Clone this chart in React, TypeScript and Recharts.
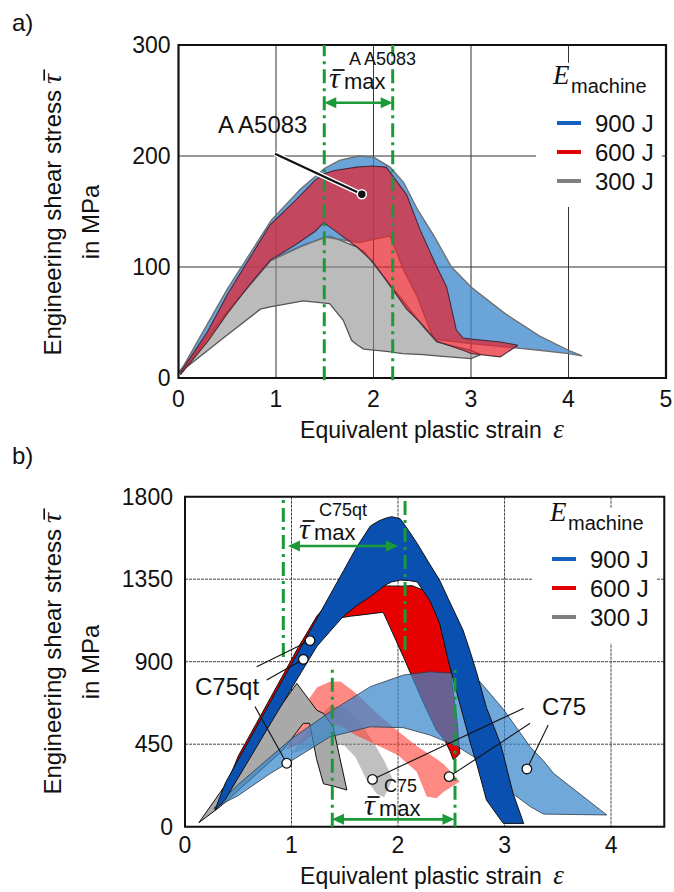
import React from 'react';
import {
  ComposedChart,
  Area,
  XAxis,
  YAxis,
  CartesianGrid,
  ReferenceLine,
  ReferenceArea,
  ReferenceDot,
} from 'recharts';

type Row = [number, number, number]; // [strain, lower stress, upper stress]

// ---------------- a) A A5083 ----------------
const aXTicks = [0, 1, 2, 3, 4, 5];
const aYTicks = [0, 100, 200, 300];

const a300: Row[] = [
  [0.0, 4, 5], [0.46, 36, 55], [0.84, 62, 96], [0.94, 64, 106], [1.28, 69.5, 120],
  [1.55, 67, 128], [1.69, 52, 123], [1.775, 34, 120], [1.83, 30, 118], [1.9, 26, 114],
  [2.135, 24, 88], [2.3, 22, 70], [2.51, 21, 46], [2.65, 20, 32.5], [3.0, 17.5, 25], [3.1, 21, 21],
];
const a900: Row[] = [
  [0.02, 3, 6], [0.5, 60, 80], [0.95, 106, 142], [1.25, 118, 170], [1.5, 127, 189],
  [1.65, 125, 196], [1.85, 122, 200], [2.0, 125, 199], [2.17, 128, 190], [2.31, 97, 176],
  [2.45, 73, 152], [2.55, 50, 138], [2.62, 35, 128], [2.8, 33, 100], [3.0, 31, 82],
  [3.35, 28, 58], [3.7, 25, 38], [4.0, 22, 25], [4.14, 20, 20],
];
const a600: Row[] = [
  [0.02, 3, 5], [0.3, 33, 42], [0.5, 58, 75], [0.73, 84, 108], [0.94, 106, 138],
  [1.2, 120, 160], [1.4, 132, 178], [1.49, 140, 184], [1.6, 133, 187], [1.83, 118, 190],
  [1.99, 105, 191], [2.13, 88, 190], [2.34, 62, 165], [2.48, 50, 133], [2.65, 33, 100],
  [2.75, 30, 82], [2.85, 27, 43], [2.92, 25, 36], [3.0, 22, 35], [3.3, 19, 32.5], [3.48, 29.5, 29.5],
];
const aTauLines = [1.495, 2.197];
const aArrow = { y: 248, from: 1.495, to: 2.197 };
const aLeaderFrom = { x: 0.99, y: 202 };
const aLeaderDot = { x: 1.88, y: 165.6 };
const aLegendBox = { x1: 3.667, x2: 4.959, y1: 154, y2: 284 };

// ---------------- b) C75 / C75qt ----------------
const bXTicks = [0, 1, 2, 3, 4];
const bYTicks = [0, 450, 900, 1350, 1800];

const bC75qt900: Row[] = [
  [0.28, 90, 90], [0.38, 150, 240], [0.49, 258, 355], [0.7, 462, 574], [0.8, 560, 678],
  [1.06, 812, 950], [1.17, 918, 1064], [1.24, 985, 1137], [1.49, 1150, 1398], [1.61, 1205, 1523],
  [1.74, 1255, 1640], [1.82, 1290, 1668], [1.88, 1318, 1682], [1.94, 1335, 1691], [2.02, 1345, 1680],
  [2.1, 1343, 1615], [2.18, 1335, 1545], [2.3, 1232, 1430], [2.39, 1110, 1345], [2.47, 909, 1245],
  [2.61, 606, 1073], [2.68, 455, 950], [2.74, 340, 837], [2.83, 146, 650], [2.96, 40, 455],
  [2.99, 18, 390], [3.08, 18, 182], [3.18, 18, 18],
];
const bC75qt600: Row[] = [
  [0.3, 100, 100], [0.5, 330, 385], [0.8, 650, 700], [1.06, 910, 975], [1.24, 1060, 1150],
  [1.47, 1140, 1300], [1.55, 1148, 1330], [1.7, 1158, 1330], [1.86, 1170, 1315], [1.9, 1120, 1313],
  [2.05, 927, 1312], [2.13, 820, 1315], [2.24, 673, 1290], [2.3, 600, 1240], [2.36, 527, 1190],
  [2.44, 470, 990], [2.49, 410, 880], [2.52, 364, 720], [2.55, 380, 600], [2.58, 400, 400],
];
const bC75qt300: Row[] = [
  [0.13, 22, 22], [0.33, 109, 187], [0.92, 418, 675], [1.05, 518, 782], [1.11, 564, 735],
  [1.17, 564, 688], [1.236, 367, 636], [1.3, 234, 618], [1.39, 222, 545], [1.52, 200, 200],
];
const bC75900: Row[] = [
  [0.27, 100, 100], [0.5, 170, 230], [0.8, 290, 380], [1.0, 360, 480], [1.36, 490, 625],
  [1.74, 545, 764], [2.05, 540, 827], [2.3, 500, 845], [2.55, 440, 836], [2.77, 360, 790],
  [2.99, 218, 640], [3.24, 110, 436], [3.365, 69, 360], [3.46, 68, 291], [3.96, 64, 64],
];
const bC75600: Row[] = [
  [0.95, 420, 420], [1.11, 460, 650], [1.24, 520, 760], [1.36, 560, 790], [1.46, 550, 792],
  [1.6, 500, 730], [1.8, 445, 620], [2.0, 390, 520], [2.175, 300, 440], [2.27, 165, 405],
  [2.36, 155, 370], [2.43, 190, 340], [2.58, 246, 246],
];
const bC75300: Row[] = [
  [1.0, 400, 400], [1.2, 430, 560], [1.36, 470, 660], [1.5, 440, 650], [1.6, 380, 600],
  [1.7, 260, 520], [1.8, 180, 430], [1.87, 160, 360], [1.95, 260, 260],
];
const bQtLines = [
  { x: 0.923, y1: 925, y2: 1800 },
  { x: 2.066, y1: 964, y2: 1800 },
];
const bC75Lines = [
  { x: 1.383, y1: 0, y2: 873 },
  { x: 2.535, y1: 0, y2: 855 },
];
const bQtArrow = { y: 1531, from: 0.967, to: 2.0 };
const bC75Arrow = { y: 40, from: 1.38, to: 2.53 };
const bQtDots = [
  { x: 1.174, y: 1015, lx: 0.673, ly: 873 },
  { x: 1.111, y: 913, lx: 0.767, ly: 800 },
  { x: 0.955, y: 346, lx: 0.657, ly: 655 },
];
const bC75Dots = [
  { x: 1.76, y: 258, lx: 3.18, ly: 646 },
  { x: 2.48, y: 273, lx: 3.24, ly: 564 },
  { x: 3.21, y: 315, lx: 3.41, ly: 555 },
];
const bLegendBox = { x1: 3.258, x2: 4.432, y1: 1001, y2: 1738 };

const legendLabels = ['900 J', '600 J', '300 J'];
const legendColors = ['#1560bd', '#e00000', '#808080'];

// ---------------- helpers ----------------
const SANS = '"Liberation Sans", Arial, Helvetica, sans-serif';
const SERIF = '"Liberation Serif", "DejaVu Serif", "Times New Roman", serif';
const GREEN = '#1c9a38';
const DASHDOT = '14 5 3 5';

const toBand = (rows: Row[]) => rows.map(([x, lo, hi]) => ({ x, band: [lo, hi] }));

const ArrowShape = (p: any) => {
  const { x1, y1, x2 } = p;
  const L = 12;
  const W = 5.5;
  const xa = Math.min(x1, x2);
  const xb = Math.max(x1, x2);
  const y = y1;
  return (
    <g>
      <line x1={xa + L - 1} y1={y} x2={xb - L + 1} y2={y} stroke={GREEN} strokeWidth={2.6} />
      <polygon points={`${xa},${y} ${xa + L},${y - W} ${xa + L},${y + W}`} fill={GREEN} />
      <polygon points={`${xb},${y} ${xb - L},${y - W} ${xb - L},${y + W}`} fill={GREEN} />
    </g>
  );
};

const tickStyle = { fill: '#111', fontSize: 23, fontFamily: SANS };

function ChartA() {
  return (
    <ComposedChart width={674} height={440} margin={{ top: 45, right: 8, bottom: 32, left: 128.5 }}>
      <CartesianGrid stroke="#333" strokeWidth={1} />
      <XAxis
        type="number" dataKey="x" domain={[0, 5]} ticks={aXTicks} allowDataOverflow height={30}
        axisLine={false} tickLine={false} tickSize={4} tickMargin={9} interval={0} tick={tickStyle}
      />
      <YAxis
        type="number" domain={[0, 300]} ticks={aYTicks} allowDataOverflow width={50}
        axisLine={false} tickLine={false} tickSize={4} tickMargin={4} interval={0} tick={tickStyle}
      />
      <ReferenceArea x1={aLegendBox.x1} x2={aLegendBox.x2} y1={aLegendBox.y1} y2={aLegendBox.y2} fill="#fff" fillOpacity={1} stroke="none" />
      <Area data={toBand(a300)} dataKey="band" type="linear" fill="#8e8e8e" fillOpacity={0.6} stroke="#555" strokeWidth={1.3} isAnimationActive={false} />
      <Area data={toBand(a900)} dataKey="band" type="linear" fill="#3a86cc" fillOpacity={0.75} stroke="#6e6e6e" strokeWidth={1.3} isAnimationActive={false} />
      <Area data={toBand(a600)} dataKey="band" type="linear" fill="#e8202a" fillOpacity={0.7} stroke="#4a2a3a" strokeWidth={1.1} isAnimationActive={false} />
      {aTauLines.map((x) => (
        <ReferenceLine key={x} segment={[{ x, y: -2 }, { x, y: 300 }]} stroke={GREEN} strokeWidth={3} strokeDasharray={DASHDOT} ifOverflow="visible" />
      ))}
      <ReferenceLine segment={[{ x: aArrow.from, y: aArrow.y }, { x: aArrow.to, y: aArrow.y }]} shape={ArrowShape} ifOverflow="visible" />
      <ReferenceLine segment={[aLeaderFrom, aLeaderDot]} stroke="#fff" strokeWidth={5} ifOverflow="visible" />
      <ReferenceLine segment={[aLeaderFrom, aLeaderDot]} stroke="#111" strokeWidth={2.2} ifOverflow="visible" />
      <ReferenceDot x={aLeaderDot.x} y={aLeaderDot.y} r={4.5} fill="#111" stroke="#fff" strokeWidth={1.5} ifOverflow="visible" />
      <ReferenceArea x1={0} x2={5} y1={0} y2={300} fill="none" stroke="#111" strokeWidth={2.2} ifOverflow="visible" />
    </ComposedChart>
  );
}

function ChartB() {
  return (
    <ComposedChart width={674} height={447} margin={{ top: 51.7, right: 9.7, bottom: 35.3, left: 135 }}>
      <CartesianGrid stroke="#444" strokeWidth={1} strokeDasharray="3 1" />
      <XAxis
        type="number" dataKey="x" domain={[0, 4.5]} ticks={bXTicks} allowDataOverflow height={30}
        axisLine={false} tickLine={false} tickSize={4} tickMargin={6} interval={0} tick={tickStyle}
      />
      <YAxis
        type="number" domain={[0, 1800]} ticks={bYTicks} allowDataOverflow width={50}
        axisLine={false} tickLine={false} tickSize={4} tickMargin={8} interval={0} tick={tickStyle}
      />
      <ReferenceArea x1={bLegendBox.x1} x2={bLegendBox.x2} y1={bLegendBox.y1} y2={bLegendBox.y2} fill="#fff" fillOpacity={1} stroke="none" />
      <Area data={toBand(bC75300)} dataKey="band" type="linear" fill="#8c8c8c" fillOpacity={0.55} stroke="none" isAnimationActive={false} />
      <Area data={toBand(bC75600)} dataKey="band" type="linear" fill="#ff3b30" fillOpacity={0.6} stroke="none" isAnimationActive={false} />
      <Area data={toBand(bC75qt600)} dataKey="band" type="linear" fill="#e60000" fillOpacity={1} stroke="#111" strokeWidth={1} isAnimationActive={false} />
      <Area data={toBand(bC75qt300)} dataKey="band" type="linear" fill="#a9a9a9" fillOpacity={1} stroke="#111" strokeWidth={1} isAnimationActive={false} />
      <Area data={toBand(bC75900)} dataKey="band" type="linear" fill="#3a86cc" fillOpacity={0.72} stroke="#2b3a4a" strokeWidth={0.8} isAnimationActive={false} />
      <Area data={toBand(bC75qt900)} dataKey="band" type="linear" fill="#0a50b0" fillOpacity={1} stroke="#111" strokeWidth={1} isAnimationActive={false} />
      {bQtLines.map((l) => (
        <ReferenceLine key={l.x} segment={[{ x: l.x, y: l.y1 }, { x: l.x, y: l.y2 }]} stroke={GREEN} strokeWidth={3} strokeDasharray={DASHDOT} ifOverflow="visible" />
      ))}
      {bC75Lines.map((l) => (
        <ReferenceLine key={l.x} segment={[{ x: l.x, y: l.y1 }, { x: l.x, y: l.y2 }]} stroke={GREEN} strokeWidth={3} strokeDasharray={DASHDOT} ifOverflow="visible" />
      ))}
      <ReferenceLine segment={[{ x: bQtArrow.from, y: bQtArrow.y }, { x: bQtArrow.to, y: bQtArrow.y }]} shape={ArrowShape} ifOverflow="visible" />
      <ReferenceLine segment={[{ x: bC75Arrow.from, y: bC75Arrow.y }, { x: bC75Arrow.to, y: bC75Arrow.y }]} shape={ArrowShape} ifOverflow="visible" />
      {[...bQtDots, ...bC75Dots].map((d, i) => (
        <ReferenceLine key={'l' + i} segment={[{ x: d.lx, y: d.ly }, { x: d.x, y: d.y }]} stroke="#111" strokeWidth={1.1} ifOverflow="visible" />
      ))}
      {[...bQtDots, ...bC75Dots].map((d, i) => (
        <ReferenceDot key={'d' + i} x={d.x} y={d.y} r={4.8} fill="#fff" stroke="#111" strokeWidth={1.3} ifOverflow="visible" />
      ))}
      <ReferenceArea x1={0} x2={4.5} y1={0} y2={1800} fill="none" stroke="#111" strokeWidth={2} ifOverflow="visible" />
    </ComposedChart>
  );
}

// tau with an overbar (bar drawn as a short line above the glyph)
const TauBar = ({ x, y, size }: { x: number; y: number; size: number }) => (
  <g>
    <text x={x} y={y} fontFamily={SERIF} fontStyle="italic" fontSize={size} fill="#111">τ</text>
    <line x1={x + size * 0.12} x2={x + size * 0.52} y1={y - size * 0.6} y2={y - size * 0.6} stroke="#111" strokeWidth={size * 0.06} />
  </g>
);

function Overlay() {
  const legend = (ex: number, ey: number, lx: number, ly0: number, step: number) => (
    <g>
      <text x={ex} y={ey} fontFamily={SERIF} fontStyle="italic" fontSize={27} fill="#111">E</text>
      <text x={ex + 18} y={ey + 9} fontFamily={SANS} fontSize={20} fill="#111">machine</text>
      {legendLabels.map((lab, i) => (
        <g key={lab}>
          <line x1={lx} x2={lx + 24} y1={ly0 + i * step} y2={ly0 + i * step} stroke={legendColors[i]} strokeWidth={4} />
          <text x={lx + 38} y={ly0 + i * step + 8.5} fontFamily={SANS} fontSize={24} fill="#111">{lab}</text>
        </g>
      ))}
    </g>
  );
  // rotated two-line y-axis title; bx = baseline x of first line, cy = vertical centre
  const yTitle = (bx1: number, cy1: number, bx2: number, cy2: number) => (
    <g>
      <g transform={`translate(${bx1} ${cy1}) rotate(-90)`}>
        <text x={128} y={0} textAnchor="end" fontFamily={SANS} fontSize={24} fill="#111">Engineering shear stress</text>
        <TauBar x={134} y={0} size={28} />
      </g>
      <g transform={`translate(${bx2} ${cy2}) rotate(-90)`}>
        <text x={0} y={0} textAnchor="middle" fontFamily={SANS} fontSize={24} fill="#111">in MPa</text>
      </g>
    </g>
  );
  const xTitle = (cx: number, y: number) => (
    <text x={cx} y={y} textAnchor="middle" fontFamily={SANS} fontSize={23} fill="#111">
      Equivalent plastic strain{'\u2002'}
      <tspan fontFamily={SERIF} fontStyle="italic" fontSize={27}>ε</tspan>
    </text>
  );
  const tauMax = (x: number, y: number, sup: string) => (
    <g>
      <TauBar x={x} y={y} size={30} />
      <text x={x + 15} y={y + 1} fontFamily={SANS} fontSize={22} fill="#111">max</text>
      <text x={x + 20} y={y - 23} fontFamily={SANS} fontSize={18} fill="#111">{sup}</text>
    </g>
  );
  return (
    <svg width={674} height={892} style={{ position: 'absolute', left: 0, top: 0, pointerEvents: 'none' }}>
      <text x={12} y={31} fontFamily={SANS} fontSize={24} fill="#111">a)</text>
      <text x={12} y={464} fontFamily={SANS} fontSize={24} fill="#111">b)</text>
      {yTitle(61, 218, 99, 222)}
      {yTitle(61, 657, 99, 662)}
      {xTitle(432, 438)}
      {xTitle(432, 884)}
      {legend(553, 84, 557, 123, 29)}
      {legend(550, 521, 552, 559, 29)}
      {tauMax(329, 88, 'A A5083')}
      {tauMax(299, 539, 'C75qt')}
      {tauMax(364, 815, 'C75')}
      <text x={218} y={133} fontFamily={SANS} fontSize={24} fill="#111">A A5083</text>
      <text x={195} y={695} fontFamily={SANS} fontSize={24} fill="#111">C75qt</text>
      <text x={542} y={715} fontFamily={SANS} fontSize={24} fill="#111">C75</text>
    </svg>
  );
}

export default function App() {
  return (
    <div style={{ position: 'absolute', left: 0, top: 0, width: 674, height: 892, background: '#fff', overflow: 'hidden' }}>
      <div style={{ position: 'absolute', left: 0, top: 0 }}>
        <ChartA />
      </div>
      <div style={{ position: 'absolute', left: 0, top: 445 }}>
        <ChartB />
      </div>
      <Overlay />
    </div>
  );
}
